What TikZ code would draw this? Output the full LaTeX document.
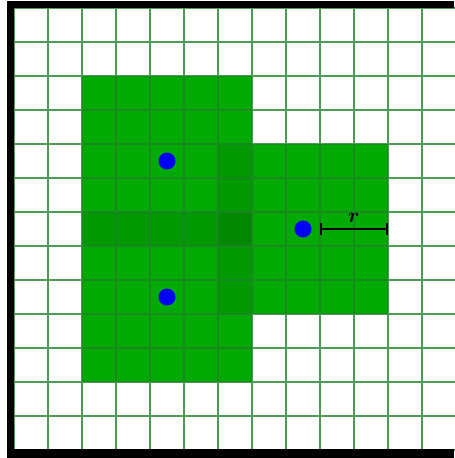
\documentclass[tikz,border=0pt]{standalone}
\usepackage{amsmath}
\usepackage{bm}
\usepackage{tikz}
\usetikzlibrary{arrows.meta}

\definecolor{cellgreen}{RGB}{0,170,0}
\definecolor{cellmid}{RGB}{0,153,0}
\definecolor{celldark}{RGB}{0,136,0}
\definecolor{linegreen}{RGB}{30,130,40}
\definecolor{dotblue}{RGB}{0,0,255}

\tikzset{
  gridline/.style={draw=linegreen,line width=0.058cm,opacity=0.8},
  frameband/.style={fill=black},
  center/.style={fill=dotblue},
  radius line/.style={line width=0.055cm,{Bar[width=0.36cm]}-{Bar[width=0.36cm]}}
}

\begin{document}
\begin{tikzpicture}[x=1cm,y=-1cm]

\useasboundingbox (-0.412,-0.235) rectangle (12.941,13.235);

%--------------------
% 覆われたセル
%--------------------
\fill[cellgreen] (2,2) rectangle (7,11);
\fill[cellgreen] (7,4) rectangle (11,9);

% 重なり
\fill[cellmid] (6,4) rectangle (7,9);
\fill[cellmid] (2,6) rectangle (6,7);
\fill[celldark] (6,6) rectangle (7,7);

%--------------------
% 格子
%--------------------
\draw[gridline] (0,0) grid (13.2,13);

% 枠
\fill[frameband] (-0.206,-0.206) rectangle (0,13.235);
\fill[frameband] (-0.206,-0.206) rectangle (12.941,0);
\fill[frameband] (-0.206,12.97) rectangle (12.941,13.235);

%--------------------
% 中心と半径
%--------------------
\coordinate (C1) at (4.5,4.5);
\coordinate (C2) at (4.5,8.5);
\coordinate (C3) at (8.5,6.5);

\fill[center] (C1) circle (0.25);
\fill[center] (C2) circle (0.25);
\fill[center] (C3) circle (0.25);

\coordinate (R1) at (9,6.5);
\coordinate (R2) at (11,6.5);
\draw[radius line] (R1) -- (R2);
\node[inner sep=0pt] (rlabel) at (10,6.17) {\LARGE$\bm{r}$};

\end{tikzpicture}
\end{document}
